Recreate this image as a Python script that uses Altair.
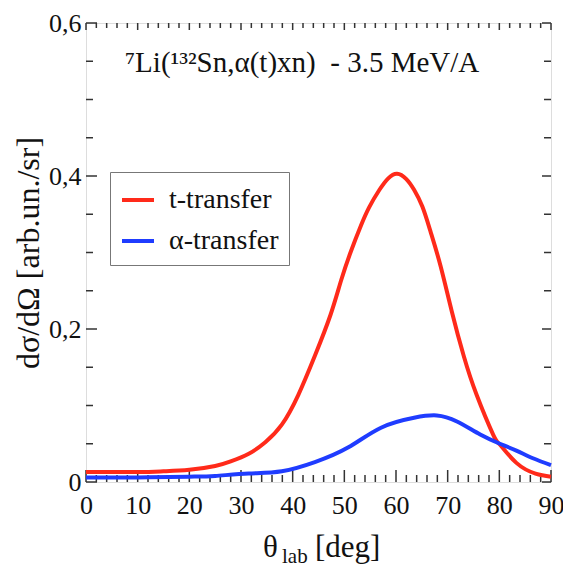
import altair as alt
import pandas as pd

# ---- data ----
theta_t = [0, 10, 15, 20, 25, 28, 31.5, 34.7, 37.9, 41.1, 44.3, 47.3, 49.4, 51.3, 53.2, 54.8,
           56.8, 58.5, 60.2, 62.0, 63.5, 65.1, 66.7, 68.6, 70.8, 73.1, 75.6, 78.8, 80.1, 83.3,
           87, 90]
sigma_t = [0.013, 0.013, 0.014, 0.016, 0.021, 0.027, 0.037, 0.052, 0.075, 0.114, 0.165, 0.218,
           0.264, 0.302, 0.335, 0.359, 0.382, 0.397, 0.403, 0.396, 0.382, 0.360, 0.327,
           0.283, 0.223, 0.165, 0.114, 0.062, 0.049, 0.025, 0.011, 0.007]

theta_a = [0, 10, 20, 25, 31.5, 37.9, 44.3, 50.7, 57.1, 63.5, 67.9, 71.8, 76.3, 80.1, 83.3, 86.5, 90]
sigma_a = [0.006, 0.006, 0.007, 0.008, 0.011, 0.014, 0.026, 0.045, 0.071, 0.084, 0.087, 0.079,
           0.062, 0.050, 0.041, 0.031, 0.022]

series_names = ["t-transfer", "α-transfer"]
series_colors = ["#ff2a1a", "#1f3cff"]

x_major = [0, 10, 20, 30, 40, 50, 60, 70, 80, 90]
x_minor = [2, 4, 6, 8, 12, 14, 16, 18, 22, 24, 26, 28, 32, 34, 36, 38, 42, 44, 46, 48,
           52, 54, 56, 58, 62, 64, 66, 68, 72, 74, 76, 78, 82, 84, 86, 88]
y_major = [0, 0.2, 0.4, 0.6]
y_minor = [0.05, 0.1, 0.15, 0.25, 0.3, 0.35, 0.45, 0.5, 0.55]

title_text = "⁷Li(¹³²Sn,α(t)xn)\u00a0\u00a0- 3.5 MeV/A"

W, H = 465, 459
FONT = "Liberation Serif"

df = pd.concat([
    pd.DataFrame({"theta": theta_t, "sigma": sigma_t, "series": series_names[0]}),
    pd.DataFrame({"theta": theta_a, "sigma": sigma_a, "series": series_names[1]}),
])

xs = alt.Scale(domain=[0, 90], nice=False, zero=False)
ys = alt.Scale(domain=[0, 0.6], nice=False)

x_axis = alt.Axis(values=x_major, title=None, ticks=False, domain=False, grid=False,
                  labelFlush=False, labelFont=FONT, labelFontSize=26, labelColor="#111",
                  labelPadding=10)
y_axis = alt.Axis(values=y_major, title="dσ/dΩ [arb.un./sr]", ticks=False, domain=False,
                  grid=False, labelFlush=False, labelFont=FONT, labelFontSize=26,
                  labelColor="#111", labelPadding=5,
                  labelExpr="datum.value == 0 ? '0' : replace(format(datum.value, '.1f'), '.', ',')",
                  titleFont=FONT, titleFontSize=32, titleFontWeight="normal",
                  titleColor="#111", titlePadding=3)

lines = alt.Chart(df).mark_line(strokeWidth=4, interpolate="natural").encode(
    x=alt.X("theta:Q", scale=xs, axis=x_axis),
    y=alt.Y("sigma:Q", scale=ys, axis=y_axis),
    color=alt.Color("series:N", sort=series_names,
                    scale=alt.Scale(domain=series_names, range=series_colors),
                    legend=alt.Legend(title=None, orient="none", legendX=24, legendY=149,
                                      symbolType="stroke", symbolSize=1024, symbolStrokeWidth=4,
                                      labelFont=FONT, labelFontSize=28, labelColor="#111",
                                      strokeColor="#777", fillColor="white", padding=10,
                                      rowPadding=9, labelOffset=13)),
)

def tick_layer(vals, orient, length):
    d = pd.DataFrame({"v": vals})
    c = alt.Chart(d).mark_rule(color="#333", strokeWidth=1.5)
    if orient == "bottom":
        return c.encode(x=alt.X("v:Q", scale=xs, axis=x_axis), y=alt.value(H), y2=alt.value(H - length))
    if orient == "top":
        return c.encode(x=alt.X("v:Q", scale=xs, axis=x_axis), y=alt.value(0), y2=alt.value(length))
    if orient == "left":
        return c.encode(y=alt.Y("v:Q", scale=ys, axis=y_axis), x=alt.value(0), x2=alt.value(length))
    return c.encode(y=alt.Y("v:Q", scale=ys, axis=y_axis), x=alt.value(W), x2=alt.value(W - length))

ticks = [
    tick_layer(x_major, "bottom", 12), tick_layer(x_minor, "bottom", 7),
    tick_layer(x_major, "top", 7), tick_layer(x_minor, "top", 5),
    tick_layer(y_major, "left", 11), tick_layer(y_minor, "left", 7),
    tick_layer(y_major, "right", 9), tick_layer(y_minor, "right", 7),
]

def label(txt, x, y, size):
    return alt.Chart(pd.DataFrame({"t": [txt]})).mark_text(
        font=FONT, fontSize=size, align="left", baseline="alphabetic", color="#111"
    ).encode(text="t:N", x=alt.value(x), y=alt.value(y))

title = label(title_text, 39, 49, 29)
xt1 = label("θ", 177, 534, 31)
xt2 = label("lab", 196, 540, 21)
xt3 = label("[deg]", 229, 534, 31)

chart = alt.layer(*ticks, lines, title, xt1, xt2, xt3).properties(
    width=W, height=H,
    autosize=alt.AutoSizeParams(type="none"),
    padding={"left": 78, "top": 15, "right": 12, "bottom": 87},
).configure_view(stroke="#333", strokeWidth=2).configure(background="white")

chart.save("out.html", embed_options={"renderer": "svg", "actions": False})
